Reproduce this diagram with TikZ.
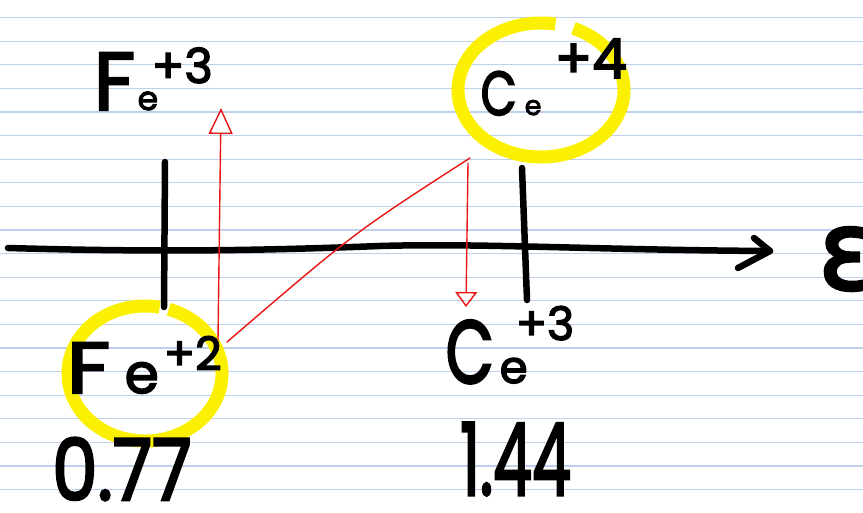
\documentclass[tikz,border=0pt]{standalone}
\usepackage{fontspec}
\setmainfont{Poppins}[FakeBold=3]
\newfontfamily\greekfont{DejaVu Sans}[FakeBold=3]
\usetikzlibrary{arrows.meta}
\definecolor{ruleblue}{RGB}{190,208,235}
\definecolor{hiyellow}{RGB}{250,240,0}
\definecolor{penred}{RGB}{235,20,20}
\newcommand\atx[2]{\rlap{\hspace*{#1}#2}}
\newcommand\fsz[1]{\fontsize{#1}{#1}\selectfont}
\begin{document}
\begin{tikzpicture}[x=1pt,y=-1pt,
  ruled/.style={draw=ruleblue,line width=1.2pt},
  hilite/.style={draw=hiyellow,line width=13pt},
  ink/.style={draw=black,line width=6.5pt,line cap=round,line join=round},
  pen/.style={draw=penred,line width=1.4pt,line cap=round,line join=round},
  lbl/.style={inner sep=0pt,anchor=base west}]
\fill[white] (0,0) rectangle (863,512);
\useasboundingbox (0,0) rectangle (863,512);
% ruled paper
\foreach \k in {0,...,21} \draw[ruled] (0,17.5+23.6*\k) -- (863,17.5+23.6*\k);
% highlight loops
\coordinate (feC) at (145,373.5);
\coordinate (ceC) at (541,90);
\draw[hilite] (feC) ++(-72:77 and 67.5) arc[start angle=-72,end angle=281,x radius=77,y radius=67.5];
\draw[hilite] (ceC) ++(-67:83 and 67) arc[start angle=-67,end angle=280,x radius=83,y radius=67];
% axis
\coordinate (axL) at (8,248);
\coordinate (axR) at (770,251);
\coordinate (chU) at (754,238);
\coordinate (chD) at (738,268);
\draw[ink] (axL) .. controls (150,252) and (250,251) .. (380,246) .. controls (480,243) and (600,250) .. (axR);
\draw[ink] (chU) -- (axR) -- (chD);
% ticks
\coordinate (feT) at (165,162);
\coordinate (feB) at (164,307);
\coordinate (ceT) at (522,168);
\coordinate (ceB) at (527,300);
\draw[ink] (feT) -- (feB);
\draw[ink] (ceT) -- (ceB);
% labels
\node[lbl] (fe3) at (93,110) {\atx{0pt}{\fsz{82}F}\atx{44pt}{\fsz{33}e}\atx{58pt}{\raisebox{27pt}{\fsz{48}+3}}};
\node[lbl] (fe2) at (66,393) {\atx{0pt}{\scalebox{1.2}[1]{\fsz{72}F}}\atx{58pt}{\fsz{55}e}\atx{97pt}{\raisebox{23pt}{\fsz{46}+2}}};
\node[lbl] (ce4) at (480,115) {\atx{0pt}{\fsz{62}\scalebox{0.75}[1]{C}}\atx{44pt}{\fsz{27}e}\atx{74pt}{\raisebox{37pt}{\fsz{55}+4}}};
\node[lbl] (ce3) at (445,383) {\atx{0pt}{\fsz{89}\scalebox{0.7}[1]{C}}\atx{54pt}{\fsz{45}e}\atx{70pt}{\raisebox{43pt}{\fsz{46}+3}}};
\node[lbl] (v077) at (52,500) {\scalebox{0.85}[1]{\fsz{85}0.77}};
\node[lbl] (v144) at (460,495) {\scalebox{0.62}[1]{\fsz{100}1.44}};
\node[inner sep=0pt,anchor=west] (eps) at (818,259) {\greekfont\fsz{110}ε};
% red pen arrows
\coordinate (r1s) at (218,340);
\coordinate (r1e) at (221,108);
\coordinate (r2s) at (227,342);
\coordinate (r2e) at (470,158);
\coordinate (r3s) at (468,163);
\coordinate (r3e) at (466,307);
\draw[pen,-{Triangle[open,length=26pt,width=24pt]}] (r1s) -- (r1e);
\draw[pen] (r2s) .. controls (355,232) .. (r2e);
\draw[pen,-{Triangle[open,length=15pt,width=22pt]}] (r3s) -- (r3e);
\end{tikzpicture}
\end{document}
